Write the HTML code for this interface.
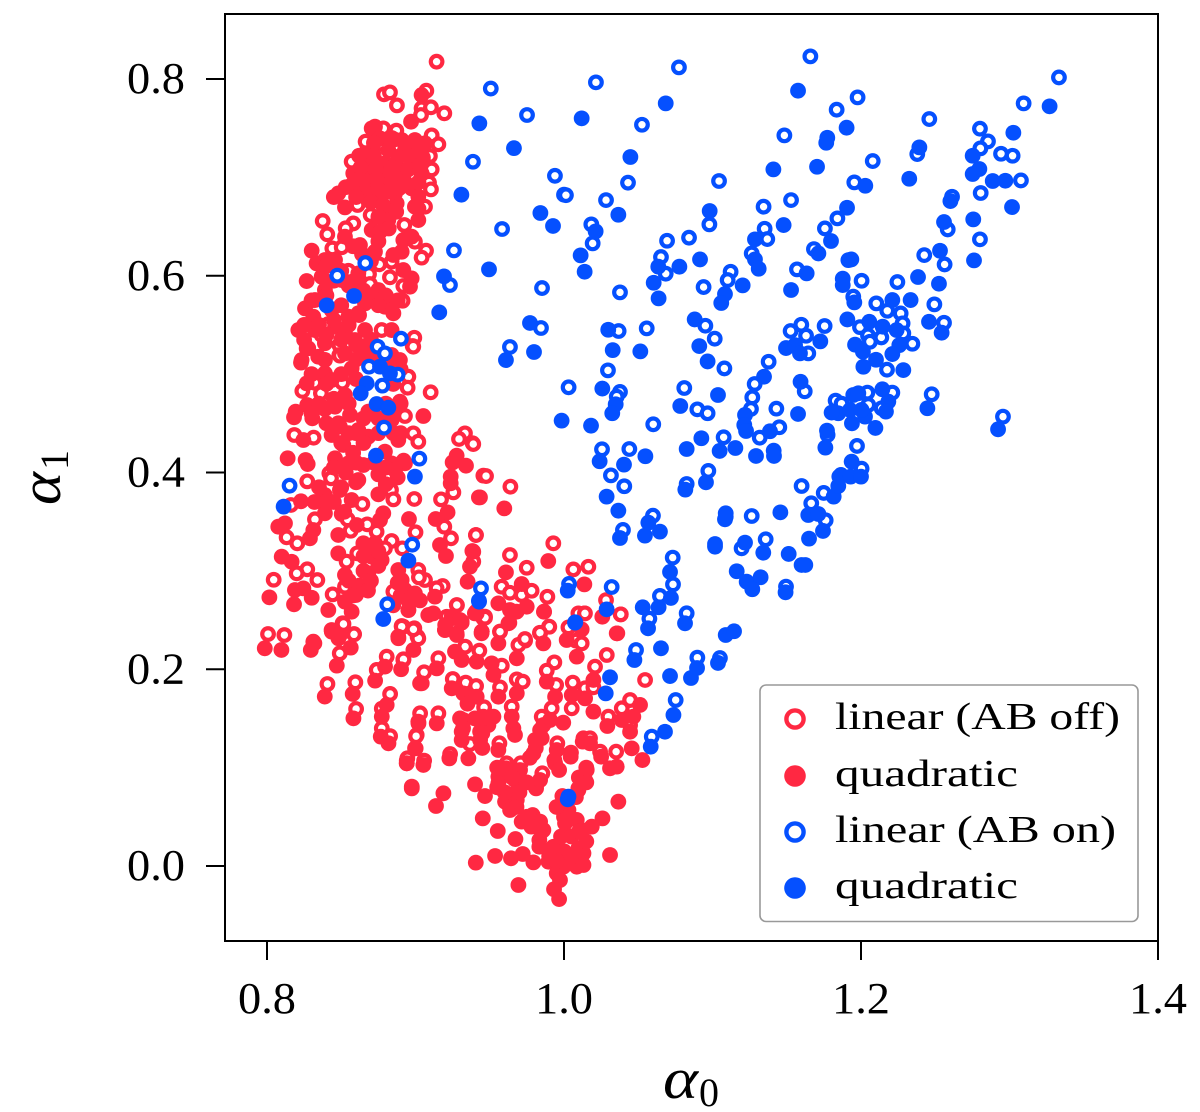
<!DOCTYPE html>
<html lang="en">
<head>
<meta charset="utf-8">
<title>alpha0 vs alpha1 scatter</title>
<style>
html,body{margin:0;padding:0;background:#fff;width:1200px;height:1112px;overflow:hidden}
svg{display:block}
text{font-family:"Liberation Serif","DejaVu Serif",serif;fill:#000}
</style>
</head>
<body>
<svg id="chart" xmlns="http://www.w3.org/2000/svg" width="1200" height="1112" viewBox="0 0 1200 1112">
<g id="points"></g>
<rect x="225" y="14" width="933" height="927" fill="none" stroke="#000" stroke-width="2"/>
<g id="ticks"></g>
<g><text x="663" y="1098" font-size="58" font-style="italic" textLength="35" lengthAdjust="spacingAndGlyphs">α</text><text x="699" y="1106" font-size="40">0</text></g>
<g transform="translate(60,505) rotate(-90)"><text x="0" y="0" font-size="58" font-style="italic" textLength="33" lengthAdjust="spacingAndGlyphs">α</text><text x="35" y="8" font-size="40">1</text></g>
<g>
<rect x="760" y="685" width="378" height="236.500" rx="6" fill="#fff" stroke="#999" stroke-width="1.6"/>
<circle cx="795" cy="719" r="8.6" fill="#fff" stroke="#ff2842" stroke-width="4.4"/>
<text x="835" y="729" font-size="38" textLength="285" lengthAdjust="spacingAndGlyphs">linear (AB off)</text>
<circle cx="795" cy="776" r="10.8" fill="#ff2842"/>
<text x="835" y="786" font-size="38" textLength="183" lengthAdjust="spacingAndGlyphs">quadratic</text>
<circle cx="795" cy="832" r="8.6" fill="#fff" stroke="#0550ff" stroke-width="4.4"/>
<text x="835" y="842" font-size="38" textLength="281" lengthAdjust="spacingAndGlyphs">linear (AB on)</text>
<circle cx="795" cy="888" r="10.8" fill="#0550ff"/>
<text x="835" y="898" font-size="38" textLength="183" lengthAdjust="spacingAndGlyphs">quadratic</text>
</g>
</svg>
<script>
const xTickValues = [0.8, 1.0, 1.2, 1.4];
const yTickValues = [0.0, 0.2, 0.4, 0.6, 0.8];
const redLinear = [[.9142,.8176],[.8788,.7844],[.8828,.7864],[.8875,.7732],[.9073,.7881],[.9041,.7702],[.9104,.7712],[.9194,.7651],[.9037,.7634],[.8871,.7475],[.9109,.7427],[.9154,.7336],[.8857,.7386],[.8664,.7363],[.8783,.7498],[.9019,.7244],[.9097,.7217],[.8772,.7227],[.9109,.7081],[.894,.716],[.857,.716],[.9091,.6946],[.9104,.6878],[.9064,.6702],[.861,.6719],[.8698,.6617],[.8925,.6516],[.8375,.6556],[.8406,.6421],[.8581,.6532],[.853,.6482],[.8996,.6346],[.9071,.6255],[.9041,.6184],[.844,.6278],[.8503,.6289],[.8756,.6116],[.8839,.6143],[.8548,.6051],[.8687,.6017],[.8828,.5984],[.8918,.5895],[.8693,.5916],[.8913,.5746],[.8413,.5509],[.8992,.537],[.8981,.5286],[.8487,.5296],[.8487,.5194],[.8772,.5448],[.8368,.5397],[.8862,.6973],[.8974,.7007],
[.8491,.5188],[.8985,.5279],[.8851,.5144],[.8952,.4974],[.8947,.4862],[.8507,.4913],[.8238,.4829],[.8319,.4913],[.8363,.4805],[.9102,.4815],[.8929,.4574],[.8184,.4381],[.8314,.4354],[.8985,.4398],[.9019,.4313],[.9333,.4398],[.9293,.4341],[.9385,.4297],[.8271,.391],[.842,.3992],[.8431,.3941],[.8835,.3822],[.8851,.3727],[.8992,.3731],[.9172,.3727],[.9255,.3798],[.8642,.368],[.8503,.3578],[.8161,.367],[.8323,.3524],[.8543,.3524],[.8675,.3473],[.8563,.3408],[.8738,.3398],[.9194,.3449],[.9,.3392],[.9239,.3331],[.9407,.3365],[.8132,.3341],[.8204,.328],[.8839,.3304],[.8794,.3229],[.8911,.3229],[.8608,.3178],[.8536,.3094],[.8738,.3127],[.9389,.3094],[.8271,.3016],[.82,.2975],[.8339,.2907],[.8045,.291],[.9019,.3009],[.9064,.2907],[.9023,.2934],[.8525,.2839],[.8599,.2755],[.8442,.2761],[.9183,.2846],[.9142,.2823],[.8851,.2789],[.9279,.265],[.8509,.2467],[.8907,.244],[.8992,.2416],[.8007,.2358],[.8117,.2348],[.8586,.2358],[.9014,.2331],[.9311,.2473],[.921,.2534],[.9457,.2517],[.9457,.3968],
[.9278,.2653],[.899,.2406],[.8918,.2433],[.9019,.2314],[.9468,.2535],[.9311,.2484],[.9244,.2518],[.9569,.2382],[.9738,.2291],[.9693,.2247],[.9899,.2433],[.9839,.2365],[1.0104,.2562],[1.0137,.2568],[1.0382,.2558],[1.003,.2426],[1.0081,.2291],[1.0119,.2263],[.9334,.223],[.943,.2189],[1.0288,.2145],[1.0209,.2026],[.9935,.207],[.9884,.1986],[1.0546,.1891],[.9581,.2036],[.8918,.2094],[.9154,.2111],[.9058,.1969],[.9251,.1901],[.9338,.1864],[.9408,.183],[.9569,.1816],[.9682,.1897],[.9722,.1874],[.9947,.184],[1.0059,.1864],[1.0142,.1806],[1.0198,.1816],[1.0445,.1687],[.9648,.162],[.9462,.1613],[.9917,.1603],[1.0052,.1603],[.9031,.1552],[.9154,.1552],[1.0389,.1603],[1.0299,.1518],[.985,.1518],[.9008,.1332],[.9311,.1366],[.9435,.1366],[.9955,.1247],[.9565,.1247],[.9367,.124],[1.0131,.1298],[1.0175,.1298],[1.0351,.1162],[1.0047,.1152],[1.0243,.1162],[.9233,.1138],[.8941,.1071],[.9058,.1071],[.9614,.1044],[.9709,.1044],[.9854,.0942],[.9935,.1077],[1.0097,.0789],[1.0445,.1433],
[.9475,.3964],[.9639,.3856],[.9407,.3364],[.9636,.3161],[.9928,.328],[.9749,.3032],[1.0063,.3015],[1.0164,.3042],[.9888,.2737],[.958,.2839],[.9636,.2778],[.9715,.2754],[.9782,.2798],[.9468,.2524],[1.0283,.2703],[1.0382,.2558],[1.0097,.2568],[1.0141,.2568],[.9569,.2382],[.9901,.2432],[.9838,.2371],[.9737,.2307],[.9389,.4289],
[.8319,.2264],[.8515,.246],[.8586,.2355],[.849,.2162],[.8806,.2128],[.8739,.1993],[.8919,.2101],[.8407,.185],[.8595,.1867],[.86,.1596],[.8829,.1749],[.8773,.16],[.8773,.14],[.8829,.132],[.8945,.1095],[.9004,.132],[.8907,.2433],[.8986,.2406]];
const redQuadratic = [[.9041,.7837],[.897,.7566],[.8705,.7498],[.8727,.7515],[.8761,.7397],[.8907,.738],[.8996,.738],[.9064,.7346],[.866,.7244],[.8817,.7278],[.8929,.7278],[.8682,.7143],[.8794,.7143],[.8884,.721],[.9019,.7143],[.8581,.7041],[.8705,.7024],[.8817,.7041],[.8907,.7075],[.9041,.7041],[.857,.6922],[.8682,.6905],[.8794,.6922],[.8974,.6888],[.848,.6837],[.8761,.6804],[.8862,.6837],[.9019,.6804],[.8525,.6695],[.8794,.6685],[.8873,.6736],[.8996,.6702],[.8817,.6566],[.9019,.6566],[.8705,.6465],[.8761,.6448],[.8525,.6397],[.8918,.6363],[.8974,.6397],[.8626,.6312],[.8727,.6244],[.8851,.6211],[.8907,.6244],[.8301,.6255],[.8334,.6126],[.839,.616],[.8458,.616],[.8615,.6024],[.8918,.6058],[.8974,.5973],[.8267,.5946],[.8368,.599],[.839,.5855],[.8503,.5956],[.8615,.5889],[.875,.5855],[.8963,.5889],[.8256,.5668],[.8323,.5753],[.8435,.5651],[.866,.5719],[.8794,.5685],[.8851,.5618],[.8312,.5584],[.8548,.5584],[.8615,.5618],[.8211,.5448],[.8323,.5448],[.8458,.5482],[.8525,.5414],[.866,.5448],[.8839,.5448],[.8278,.5262],[.839,.5313],[.8592,.5346],[.8671,.5245],[.8233,.5143],[.8345,.5177],[.8525,.5211],[.8839,.5194],[.8895,.5143],
[.8229,.5117],[.8267,.5262],[.839,.5144],[.839,.5008],[.857,.5059],[.8637,.5279],[.8884,.511],[.8267,.4906],[.8435,.494],[.8525,.4788],[.8895,.472],[.839,.4645],[.8271,.4686],[.8193,.4618],[.8182,.4561],[.8305,.4551],[.8458,.4669],[.8559,.4585],[.8682,.4618],[.8839,.4534],[.9053,.4574],[.8435,.4381],[.8491,.4466],[.8615,.4432],[.8682,.4364],[.8514,.428],[.8245,.433],[.8884,.433],[.8794,.4212],[.8139,.4144],[.8274,.4086],[.826,.4127],[.8458,.4144],[.8548,.4093],[.8649,.4076],[.8929,.4093],[.8839,.4093],[.875,.3981],[.8615,.3924],[.8862,.4025],[.839,.3771],[.8491,.3822],[.857,.372],[.875,.3778],[.8229,.3707],[.839,.3585],[.8783,.3585],[.8761,.3517],[.8956,.3527],[.9136,.3527],[.9216,.3595],[.9277,.4171],[.925,.4103],[.934,.4069],[.9237,.3958],[.9237,.389],[.9427,.3747],[.8121,.3483],[.8076,.3449],[.8312,.3415],[.8289,.3331],[.848,.3365],[.8604,.3466],[.8649,.328],[.8727,.328],[.848,.3178],[.8705,.3144],[.8772,.311],[.8099,.3144],[.8166,.3093],[.9165,.3263],[.9205,.3151],[.9383,.3202],[.9367,.3043],[.9351,.289],[.8525,.2958],[.8682,.2975],[.8682,.2856],[.8884,.3009],[.8907,.2907],[.8929,.2805],[.8996,.2771],[.8188,.2805],[.8245,.2822],[.8301,.2727],[.8016,.2731],[.8182,.266],[.8525,.2687],[.8413,.2602],[.857,.2585],[.8952,.2602],[.9131,.2738],[.9086,.2551],[.9243,.2534],[.94,.2568],[.8435,.2399],[.8491,.2348],[.8312,.228],[.8884,.2331],[.9198,.2399],[.9277,.2365],[.9445,.2365],
[.8952,.2602],[.912,.2568],[.9199,.2399],[.9278,.2348],[.9446,.2382],[.9408,.2585],[.9626,.2467],[.9558,.2263],[.9866,.2585],[1.0359,.2365],[1.0018,.2297],[.9861,.2263],[.9682,.2111],[.9266,.2179],[.9311,.2094],[.9412,.2077],[.9513,.206],[.9525,.1942],[.9884,.1874],[1.0086,.2128],[1.0198,.1891],[.9143,.2009],[.9042,.1857],[.9244,.1806],[.9322,.1755],[.9412,.1721],[.9682,.1755],[.9558,.1721],[.994,.1721],[1.0052,.1738],[1.0142,.1704],[1.0198,.1569],[1.0512,.1637],[1.0467,.1518],[1.0389,.1484],[.9019,.1467],[.9143,.145],[.9322,.1484],[.9457,.1518],[.9525,.1518],[.9648,.1518],[.9995,.1457],[1.0292,.1423],[.9906,.1484],[.9861,.1433],[.9659,.1399],[.967,.1332],[.9491,.1433],[.9839,.1382],[.9805,.1281],[.9435,.1281],[.9311,.1281],[1.0445,.1365],[.9001,.1196],[.9558,.1179],[.9356,.1094],[.9228,.1094],[.9794,.1145],[.9951,.1179],[1.0126,.1264],[1.0175,.1247],[1.0456,.1196],[1.0528,.1077],[1.025,.1111],[1.0045,.1111],[.8941,.1044],[.9053,.1027],[.961,.0993],[.9558,.0908],[.9704,.0976],[.994,.1044],[.9967,.0976],[1.0153,.0976],[1.031,.0993],[1.0355,.101],[.9401,.083],[.9468,.0711],[.9558,.084],[.967,.0874],[.9682,.0755],[.9812,.0789],[.9839,.0874],[1.0142,.0874],[1.0097,.0772],[.8975,.0789],[.9188,.0739],[.9138,.061],[.9603,.0654],[.9682,.0671],[.9637,.0569],[.9989,.0711],[1.003,.0569],[1.0366,.0654],[.9789,.0518],[.9715,.0451],[.9453,.0484],[.9839,.0451],[1.0259,.0484],[1.0187,.04],[1.0007,.0434],[1.0086,.0468],[1.0119,.0366],[.9554,.0356],[.9861,.0366],[.9673,.0274],[.9834,.0264],[.9834,.0196],[.9929,.0196],[1.0097,.0179],[1.0131,.0129],[1.031,.0112],[.9722,.0122],[.9643,.0078],[.9536,.0102],[.9406,.0034],[.9794,.0037],[.9895,.0044],[1.0018,.0078],[.9996,-.0007],[1.0086,-.0007],[1.0131,.001],[.9951,-.0075],[.9973,-.0143],[.9693,-.0193],[.9933,-.0237],[.9967,-.0336],
[.9434,.3747],[.9598,.3635],[.9894,.31],[.9609,.2985],[.9715,.2866],[1.0137,.2863],[.9865,.2585],[.9558,.267],[.9636,.2602],[.9749,.2636],[.9681,.2585],[.9632,.2473],[1.0258,.2534],[1.0355,.2365],[.9446,.2382],[1.0119,.2405],[.9412,.2568],[.9389,.3195],
[.7985,.2213],[.8097,.2196],[.8295,.2196],[.8436,.2382],[.8481,.2315],[.8564,.222],[.847,.2037],[.8795,.2027],[.8728,.1884],[.8903,.2],[.8389,.1722],[.8577,.1749],[.8582,.1501],[.8806,.1637],[.8773,.1518],[.8766,.1315],[.8818,.1247],[.8941,.1044],[.8997,.1196],[.8975,.0807],[.9031,.1857],[.902,.145],[.8885,.2315],[.8986,.2196],
[.872,.735],[.884,.74],[.893,.735],[.902,.73],[.862,.722],[.872,.722],[.895,.722],[.905,.72],[.863,.71],[.873,.708],[.884,.71],[.895,.708],[.903,.712],[.862,.698],[.874,.698],[.885,.698],[.893,.695],[.902,.695],[.866,.685],[.875,.688],[.884,.685],[.853,.69],[.86,.68],[.87,.675],[.878,.672],[.887,.665],[.889,.689],[.902,.668],[.845,.68],[.875,.66],[.882,.648],[.875,.635],[.858,.63],[.864,.622],[.87,.615],
[.84,.61],[.85,.605],[.845,.595],[.855,.59],[.84,.58],[.83,.575],[.86,.595],[.865,.585],[.87,.578],[.88,.58],[.888,.575],[.875,.57],[.862,.56],[.85,.57],[.855,.55],[.845,.555],[.835,.55],[.825,.55],[.825,.535],[.84,.54],[.85,.535],[.86,.53],[.87,.535],[.86,.515],[.87,.515],[.83,.5],[.84,.49],[.85,.5],[.86,.495],[.845,.475],[.855,.47],[.865,.455],[.875,.455],[.885,.46],[.89,.44],[.875,.44],[.865,.43],[.855,.44],[.84,.45],[.83,.46],[.835,.47],
[.845,.405],[.853,.4],[.86,.41],[.86,.39],[.85,.385],[.872,.41],[.88,.405],[.888,.395],[.88,.388],[.892,.412],[.87,.325],[.865,.315],[.875,.32],[.865,.3],[.855,.29],[.862,.285],[.87,.29],[.875,.305],[.89,.275],[.895,.27],[.903,.27],[.888,.288],[.885,.265],[.835,.385],[.845,.37],[.84,.37],[.852,.36],[.832,.37],[.868,.28],[.858,.275],[.85,.43],[.858,.42],[.86,.44],[.848,.45],[.88,.515],[.89,.505],[.885,.49],[.88,.47],[.89,.47],[.885,.44],
[.935,.165],[.93,.15],[.94,.15],[.932,.14],[.945,.135],[.95,.15],[.945,.12],[.981,.12],[.977,.11],[.985,.13],[.955,.1],[.965,.09],[.975,.085],[.97,.075],[.96,.075],[.955,.08],[.968,.06],[.975,.05],[.985,.035],[.978,.04],[.998,.03],[1.005,.03],[1.0,.015],[1.005,.01],[.995,.005],[.99,.01],[1.015,.025],[1.01,.035],[1.0,.05],[.995,.06],[1.01,.09],[1.015,.085],[1.008,.07],[1.015,.1],[.93,.25],[.92,.245]];
const blueLinear = [[1.0215,.7966],[1.0774,.8118],[1.1659,.823],[1.3333,.8016],[1.3095,.7752],[1.1977,.7813],[1.1836,.7688],[1.0525,.7535],[1.246,.7593],[1.1484,.7427],[1.2801,.7495],[1.2855,.7366],[1.2804,.7295],[1.2379,.7237],[1.2943,.724],[1.3021,.722],[1.2079,.7166],[1.0431,.6946],[1.1044,.6963],[1.1955,.6949],[1.3077,.6969],[1.2806,.6841],[1.0,.6824],[1.0283,.6769],[1.1344,.6702],[1.1529,.6769],[1.2613,.6803],[1.1841,.6583],[1.2584,.6471],[1.2801,.637],[1.0184,.6522],[1.0193,.6329],[1.0979,.6522],[1.0694,.6356],[1.0842,.6387],[1.1351,.6478],[1.1369,.6373],[1.1757,.6481],[1.1683,.6271],[1.0653,.619],[1.0685,.6021],[1.1264,.6227],[1.1122,.6041],[1.1102,.5956],[1.1935,.6166],[1.1569,.6065],[1.2426,.621],[1.2563,.6115],[1.2004,.5949],[1.2245,.5936],[1.094,.5885],[1.0377,.5831],[1.1948,.5787],[1.2103,.5719],[1.2177,.5644],[1.2267,.5617],[1.2494,.5709],[1.2559,.5522],[1.0952,.5492],[1.0368,.5438],[1.0557,.5465],[1.1598,.5502],[1.1526,.5438],[1.163,.539],[1.1755,.5489],[1.1993,.5478],[1.228,.5516],[1.2047,.5394],[1.2137,.5373],[1.2285,.5414],[1.206,.5329],[1.2346,.5309],[1.1015,.536],[1.1645,.5211],[1.1378,.5126],[1.108,.5058],[1.0296,.5038],[1.2175,.5045],
[1.0031,.4866],[1.0377,.4819],[1.0355,.4771],[1.081,.4859],[1.0898,.4642],[1.0967,.4602],[1.1284,.49],[1.1268,.4764],[1.1259,.4646],[1.143,.4649],[1.1621,.4825],[1.0601,.449],[1.145,.446],[1.1318,.4354],[1.1075,.4358],[1.1829,.4731],[1.1869,.47],[1.2043,.4812],[1.2211,.4812],[1.2476,.4795],[1.2049,.4687],[1.2139,.4653],[1.2956,.4568],[1.1775,.4382],[1.1973,.427],[1.0256,.4236],[1.044,.4239],[1.0316,.3971],[1.0406,.386],[1.0972,.4016],[1.0826,.3883],[1.2004,.4039],[1.1865,.3975],[1.16,.3863],[1.1749,.3792],[1.1665,.3687],[1.1762,.3514],[1.0599,.3561],[1.1264,.3558],[1.1089,.3585],[1.0397,.3416],[1.1358,.3321],[1.1196,.3229],[1.0732,.3135],[1.0734,.2863],[1.0646,.2745],[1.0826,.2569],[1.0575,.2514],[1.0321,.2836],[1.0034,.2867],[1.0485,.2196],[1.0898,.2118],[1.1495,.284],
[1.0752,.1687],[1.0591,.1315],[1.003,.0705],[1.105,.2114],[.8662,.6129],[.8473,.6001],[.8902,.536],[.8745,.5279],[.8794,.5211],[.9387,.7159],[.9259,.6258],[.9232,.5906],[.9507,.7903],[.9939,.7016],[1.0013,.6819],[.9751,.7634],[.9583,.6475],[.9852,.5875],[.9845,.5469],[.9636,.5276],[.8687,.5076],[.888,.4995],[.8777,.4883],[.8788,.4456],[.9026,.4141],[.8152,.3866],[.8978,.3266],[.881,.266],[.9441,.2822]];
const blueQuadratic = [[1.1576,.7881],[1.0685,.7752],[1.0119,.76],[1.327,.7722],[1.1903,.7505],[1.1773,.7403],[1.1766,.7352],[1.3026,.7454],[1.2393,.7305],[1.2752,.722],[1.0447,.7207],[1.1704,.7108],[1.141,.7081],[1.2797,.7085],[1.2752,.7034],[1.2029,.6915],[1.2887,.6963],[1.2972,.6966],[1.2325,.6986],[1.2602,.6759],[1.1906,.6691],[1.3017,.6698],[1.0366,.662],[1.0981,.6658],[1.2756,.6573],[1.1479,.6515],[1.2559,.6546],[1.0213,.6451],[1.1286,.637],[1.1798,.6353],[1.1713,.6227],[1.0112,.6207],[1.2532,.6254],[1.0916,.6166],[1.1286,.6166],[1.1915,.6159],[1.2761,.6156],[1.0635,.6092],[1.0777,.6092],[1.1311,.6071],[1.0139,.6041],[1.1634,.6024],[1.2384,.5987],[1.1877,.597],[1.1203,.5902],[1.1877,.5905],[1.2525,.5919],[1.0604,.5929],[1.1529,.5855],[1.1084,.5814],[1.0637,.577],[1.1059,.5723],[1.1955,.5729],[1.2211,.5753],[1.2334,.5753],[1.088,.5556],[1.0298,.5451],[1.1908,.5556],[1.2056,.5532],[1.2146,.5482],[1.224,.5448],[1.2458,.5532],[1.2543,.5421],[1.0328,.5244],[1.0514,.5231],[1.0911,.5285],[1.1495,.5265],[1.1556,.5295],[1.1589,.5211],[1.1726,.5333],[1.196,.5299],[1.2013,.5228],[1.2258,.5295],[1.2211,.5204],[1.2101,.5146],[1.0967,.5129],[1.2016,.5075],[1.2285,.5041],[1.1347,.4974],[1.1593,.4922],
[1.0258,.4853],[1.0348,.4693],[1.0325,.4602],[1.0182,.4476],[.9984,.4527],[1.1037,.4788],[1.0783,.4676],[1.1219,.4585],[1.1214,.4483],[1.1226,.4422],[1.1576,.4595],[1.1387,.4419],[1.1293,.4168],[1.1154,.4249],[1.1048,.4219],[1.0925,.4348],[1.0826,.4239],[1.1412,.4222],[1.1414,.4168],[1.0548,.4165],[1.0404,.408],[1.024,.4114],[1.0287,.3755],[1.0366,.3612],[1.0568,.349],[1.0646,.3399],[1.0545,.3358],[1.0377,.3334],[1.0956,.39],[1.0817,.3826],[1.1084,.3524],[1.1089,.355],[1.1017,.3246],[1.1017,.3273],[1.1219,.3287],[1.1342,.3185],[1.1513,.3172],[1.165,.3328],[1.16,.306],[1.1625,.306],[1.1163,.2996],[1.123,.289],[1.1324,.2935],[1.1268,.2813],[1.1492,.2782],[1.1645,.3568],[1.1713,.3578],[1.1744,.3406],[1.1457,.3595],[1.1771,.4426],[1.176,.4253],[1.1816,.3755],[1.1847,.3863],[1.1854,.3958],[1.193,.3958],[1.1937,.411],[1.2,.3958],[1.2447,.4653],[1.2923,.4439],[1.1939,.45],[1.2097,.4453],[1.1847,.4602],[1.1802,.4609],[1.1948,.4788],[1.1982,.4805],[1.2027,.4568],[1.1926,.4636],[1.2004,.4636],[1.2144,.4846],[1.2184,.472],[1.2168,.4619],[1.0714,.2989],[1.072,.2725],[1.0637,.263],[1.053,.263],[1.0566,.2416],[1.0815,.2467],[1.1089,.2348],[1.1145,.2386],[1.0653,.2213],[1.0025,.2799],[1.0287,.2609],[1.0076,.2477],[.9428,.2687],[1.0074,.2474],[1.0474,.2094],[1.031,.1918],[1.0281,.1755],[1.0714,.1931],[1.0737,.1535],[1.068,.1365],[1.0584,.1213],[1.0025,.0678],[1.0855,.1911],[1.0896,.2013],[1.1037,.2064],[.8586,.5794],[.8402,.5699],[.943,.7549],[.9309,.6824],[.9192,.5994],[.916,.5628],[.9495,.6065],[.9663,.7297],[.9841,.6638],[.9926,.6506],[.9771,.552],[.9798,.5225],[.9609,.5143],[.8761,.5076],[.8828,.5008],[.8671,.4906],[.8631,.4805],[.8738,.4696],[.8817,.4659],[.8734,.4171],[.8996,.3958],[.8112,.3653],[.8952,.3104],[.8783,.2511],[.9427,.2697]];

const NS = 'http://www.w3.org/2000/svg';
function xScale(v) { return 267 + (v - 0.8) * 1485; }
function yScale(v) { return 866 - v * 983.75; }
const pointsLayer = document.getElementById('points');
const ticksLayer = document.getElementById('ticks');

function drawSeries(rows, color, filled, name) {
  rows.forEach(function (row) {
    const c = document.createElementNS(NS, 'circle');
    
    
    c.setAttribute('cx', xScale(row[0]));
    c.setAttribute('cy', yScale(row[1]));
    if (filled) {
      c.setAttribute('r', 7.9);
      c.setAttribute('fill', color);
    } else {
      c.setAttribute('r', 5.8);
      c.setAttribute('fill', '#fff');
      c.setAttribute('stroke', color);
      c.setAttribute('stroke-width', 4.2);
    }
    pointsLayer.appendChild(c);
  });
}
drawSeries(redLinear, '#ff2842', false, 'point-linear-ab-off');
drawSeries(redQuadratic, '#ff2842', true, 'point-quadratic-ab-off');
drawSeries(blueLinear, '#0550ff', false, 'point-linear-ab-on');
drawSeries(blueQuadratic, '#0550ff', true, 'point-quadratic-ab-on');

xTickValues.forEach(function (v) {
  const l = document.createElementNS(NS, 'line');
  
  
  l.setAttribute('x1', xScale(v));
  l.setAttribute('x2', xScale(v));
  l.setAttribute('y1', 941);
  l.setAttribute('y2', 960);
  l.setAttribute('stroke', '#000');
  l.setAttribute('stroke-width', 2);
  ticksLayer.appendChild(l);
  const t = document.createElementNS(NS, 'text');
  
  
  t.setAttribute('x', xScale(v) - 29);
  t.setAttribute('y', 1013);
  t.setAttribute('font-size', 44);
  t.setAttribute('textLength', 58);
  t.setAttribute('lengthAdjust', 'spacingAndGlyphs');
  t.textContent = v.toFixed(1);
  ticksLayer.appendChild(t);
});
yTickValues.forEach(function (v) {
  const l = document.createElementNS(NS, 'line');
  
  
  l.setAttribute('x1', 206);
  l.setAttribute('x2', 225);
  l.setAttribute('y1', yScale(v));
  l.setAttribute('y2', yScale(v));
  l.setAttribute('stroke', '#000');
  l.setAttribute('stroke-width', 2);
  ticksLayer.appendChild(l);
  const t = document.createElementNS(NS, 'text');
  
  
  t.setAttribute('x', 127);
  t.setAttribute('y', yScale(v) + 14);
  t.setAttribute('font-size', 44);
  t.setAttribute('textLength', 58);
  t.setAttribute('lengthAdjust', 'spacingAndGlyphs');
  t.textContent = v.toFixed(1);
  ticksLayer.appendChild(t);
});
</script>
</body>
</html>
